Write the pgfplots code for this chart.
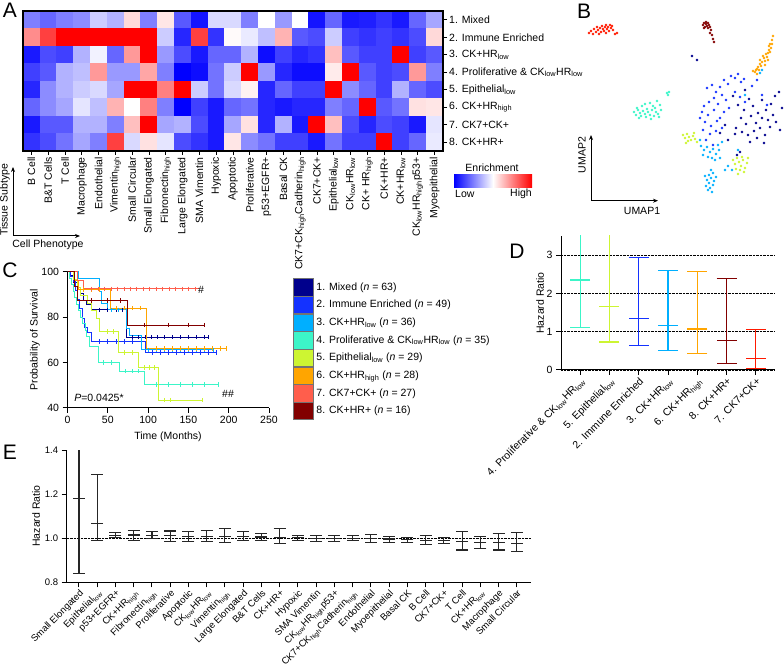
\documentclass[border=0pt]{standalone}
\usepackage{pgfplots}
\pgfplotsset{compat=1.18}
\usepackage{fontspec}
\setmainfont{Liberation Sans}
\usetikzlibrary{arrows.meta}
\newcommand\fs{\fontsize{10.5pt}{12pt}\selectfont}
\newcommand\fss{\fontsize{9.5pt}{11pt}\selectfont}
\newcommand\fl{\fontsize{21pt}{24pt}\selectfont}
\newcommand\sub[1]{\textsubscript{#1}}
\definecolor{c1}{RGB}{0,0,140}
\definecolor{c2}{RGB}{20,50,255}
\definecolor{c3}{RGB}{0,175,255}
\definecolor{c4}{RGB}{60,245,200}
\definecolor{c5}{RGB}{205,245,50}
\definecolor{c6}{RGB}{255,165,0}
\definecolor{c7}{RGB}{255,25,0}
\definecolor{c8}{RGB}{130,0,0}
\pgfplotsset{
  gp/.style={scale only axis, anchor=south west, axis x line*=bottom, axis y line*=left,
    tick align=outside, major tick length=5pt, axis line style={line width=1pt},
    every tick/.style={black, line width=1pt}, /pgf/number format/assume math mode=true},
  cens/.style={only marks, mark=|, mark size=2.2pt, line width=0.7pt, forget plot},
}
\begin{document}
\begin{tikzpicture}
\path[use as bounding box] (0pt,0pt) rectangle (784pt,671pt);

% ---------- B: UMAP scatter (pixel coordinates) ----------
\begin{axis}[at={(0pt,0pt)}, anchor=south west, scale only axis, width=784pt, height=671pt,
  xmin=0, xmax=784, ymin=0, ymax=671, y dir=reverse, hide axis, clip=false]
\pgfplotsset{every axis plot/.append style={only marks, mark=*, mark size=1.1pt, mark options={draw=none}}}
\addplot[c7] coordinates {(589,33)(591,31)(593,34)(594,29)(596,32)(597,27)(598,30)(600,28)(601,32)(602,26)(603,29)(604,31)(605,27)(606,25)(607,29)(608,27)(609,31)(610,25)(611,28)(612,26)(613,30)(615,34)(617,33)(599,34)(606,33)};
\addplot[c8] coordinates {(703,25)(704,23)(705,27)(706,24)(707,26)(708,23)(708,28)(709,25)(710,27)(711,30)(710,33)(712,35)(713,39)(714,42)(706,22)(704,28)};
\addplot[c6] coordinates {(773,36)(772,40)(770,44)(771,48)(769,50)(768,53)(766,54)(767,57)(764,58)(765,61)(762,62)(760,64)(761,66)(758,67)(757,69)(756,70)(755,72)(753,71)(759,70)(765,65)(763,56)(769,46)(772,44)(768,60)(760,60)(757,74)(770,52)};
\addplot[c2] coordinates {(707,88)(712,85)(716,92)(720,87)(724,80)(728,84)(731,76)(735,78)(738,74)(741,82)(744,79)(722,95)(714,98)(709,102)(704,106)(718,104)(726,100)(702,112)(708,115)(714,110)(720,118)(705,122)(711,126)(717,121)(724,112)(729,108)(703,130)(710,134)(716,131)(722,128)(706,140)(713,145)(735,92)(740,97)(745,102)(752,86)(757,80)(762,95)(767,105)(700,118)};
\addplot[c1] coordinates {(692,56)(697,60)(733,96)(738,105)(744,110)(749,99)(753,106)(758,113)(762,100)(766,110)(771,104)(775,96)(779,92)(773,115)(768,120)(762,118)(756,123)(751,116)(746,124)(741,118)(736,128)(742,132)(748,135)(754,131)(760,128)(765,135)(770,127)(776,122)(780,130)(757,138)(735,134)(745,90)(782,108)(737,155)(740,152)(728,140)(750,142)(764,143)(720,133)(725,125)};
\addplot[c3] coordinates {(701,146)(704,150)(707,147)(710,152)(713,149)(716,154)(719,150)(703,155)(708,157)(712,158)(718,145)(722,142)(725,170)(728,166)(705,176)(707,180)(709,183)(711,178)(713,185)(710,188)(708,190)(712,192)(714,181)(716,177)(706,186)(709,175)(732,170)(700,140)(715,160)(720,158)(711,170)(713,173)(762,70)(760,73)(745,95)(738,150)};
\addplot[c4] coordinates {(634,112)(636,115)(638,110)(640,113)(641,116)(643,111)(645,114)(647,109)(648,112)(650,115)(652,110)(653,106)(655,108)(656,112)(658,114)(659,117)(661,110)(645,104)(650,103)(657,101)(637,108)(642,106)(654,116)(660,105)(667,93)(668,95)(669,92)(646,117)(639,118)(651,119)};
\addplot[c5] coordinates {(683,135)(685,138)(687,134)(689,137)(691,140)(693,136)(695,139)(697,142)(688,141)(694,133)(686,143)(733,160)(735,164)(737,158)(739,162)(741,166)(743,160)(745,168)(747,163)(740,170)(736,169)(744,172)(738,174)(748,158)(742,157)};
\end{axis}
\draw[line width=1pt, {Stealth[length=5pt,width=4pt]}-{Stealth[length=5pt,width=4pt]}] (591pt,536pt) -- (591pt,470.3pt) -- (658pt,470.3pt);
\node[rotate=90, font=\fs] at (582pt,516pt) {UMAP2};
\node[font=\fs] at (642pt,460pt) {UMAP1};

% ---------- A: heatmap ----------
\begin{axis}[at={(23pt,520pt)}, anchor=south west, scale only axis, width=420pt, height=140pt,
  xmin=-0.5, xmax=24.5, ymin=0.5, ymax=8.5, y dir=reverse, enlargelimits=false, axis on top,
  colormap={bwr}{rgb255=(0,0,255) rgb255=(255,255,255) rgb255=(255,0,0)},
  point meta min=-1, point meta max=1,
  xtick={0,...,24}, ytick={1,...,8}, xtick pos=left, ytick pos=right, yticklabel pos=right,
  tick align=outside, major tick length=4pt, every tick/.style={black, line width=0.8pt},
  axis line style={line width=1.2pt},
  xticklabels={B Cell, B\&T Cells, T Cell, Macrophage, Endothelial, Vimentin\sub{high}, Small Circular, Small Elongated, Fibronectin\sub{high}, Large Elongated, SMA Vimentin, Hypoxic, Apoptotic, Proliferative, p53+EGFR+, Basal CK, CK7+CK\sub{high}Cadherin\sub{high}, CK7+CK+, Epithelial\sub{low}, CK\sub{low}HR\sub{low}, CK+ HR\sub{high}, CK+HR+, CK+HR\sub{low}, CK\sub{low}HR\sub{high}p53+, Myoepithelial},
  yticklabels={1. Mixed, 2. Immune Enriched, 3. CK+HR\sub{low}, 4. Proliferative \& CK\sub{low}HR\sub{low}, 5. Epithelial\sub{low}, 6. CK+HR\sub{high}, 7. CK7+CK+, 8. CK+HR+},
  xticklabel style={rotate=90, anchor=east, font=\fs, inner sep=2pt},
  yticklabel style={font=\fs, anchor=west, inner sep=2pt}]
\addplot[matrix plot*, mesh/cols=25, point meta=explicit] coordinates {
(0,1)[-0.5] (1,1)[-0.6] (2,1)[-0.5] (3,1)[-0.45] (4,1)[-0.2] (5,1)[-0.3] (6,1)[0.15] (7,1)[-0.5] (8,1)[0.1] (9,1)[-0.65] (10,1)[-0.92] (11,1)[-0.15] (12,1)[-0.15] (13,1)[-0.5] (14,1)[0] (15,1)[-0.4] (16,1)[0] (17,1)[-0.92] (18,1)[-0.6] (19,1)[-0.9] (20,1)[-0.88] (21,1)[-0.8] (22,1)[-0.9] (23,1)[-0.6] (24,1)[-0.35]
(0,2)[0.45] (1,2)[0.75] (2,2)[1] (3,2)[1] (4,2)[1] (5,2)[1] (6,2)[1] (7,2)[1] (8,2)[-0.2] (9,2)[-0.85] (10,2)[0.75] (11,2)[-0.8] (12,2)[0.02] (13,2)[-0.08] (14,2)[-0.25] (15,2)[0.3] (16,2)[-0.65] (17,2)[-0.7] (18,2)[-0.2] (19,2)[-0.75] (20,2)[-0.8] (21,2)[-0.75] (22,2)[-0.8] (23,2)[-0.7] (24,2)[0.15]
(0,3)[-0.9] (1,3)[-0.7] (2,3)[-0.75] (3,3)[-0.3] (4,3)[-0.05] (5,3)[-0.6] (6,3)[0.4] (7,3)[1] (8,3)[-0.4] (9,3)[-0.7] (10,3)[-0.9] (11,3)[-0.6] (12,3)[-0.6] (13,3)[-0.3] (14,3)[-0.95] (15,3)[-0.75] (16,3)[-0.85] (17,3)[-0.8] (18,3)[0.25] (19,3)[-0.65] (20,3)[-0.75] (21,3)[-0.75] (22,3)[1] (23,3)[-0.75] (24,3)[-0.65]
(0,4)[-0.75] (1,4)[-0.65] (2,4)[-0.3] (3,4)[-0.25] (4,4)[0.4] (5,4)[-0.4] (6,4)[-0.4] (7,4)[0.35] (8,4)[-0.5] (9,4)[-1] (10,4)[-0.95] (11,4)[-0.55] (12,4)[-0.2] (13,4)[1] (14,4)[-0.4] (15,4)[-0.85] (16,4)[-0.95] (17,4)[-0.95] (18,4)[0.08] (19,4)[1] (20,4)[-0.65] (21,4)[-0.75] (22,4)[-0.7] (23,4)[0.4] (24,4)[-0.5]
(0,5)[-0.85] (1,5)[-0.45] (2,5)[-0.3] (3,5)[-0.2] (4,5)[-0.15] (5,5)[-0.35] (6,5)[1] (7,5)[1] (8,5)[0.5] (9,5)[1] (10,5)[-0.2] (11,5)[-0.55] (12,5)[-0.15] (13,5)[0.05] (14,5)[-0.85] (15,5)[-0.6] (16,5)[-0.75] (17,5)[-0.75] (18,5)[1] (19,5)[-0.45] (20,5)[-0.6] (21,5)[-0.75] (22,5)[-0.3] (23,5)[-0.6] (24,5)[-0.7]
(0,6)[-0.6] (1,6)[-0.45] (2,6)[-0.35] (3,6)[-0.1] (4,6)[-0.25] (5,6)[0.3] (6,6)[0] (7,6)[0.5] (8,6)[-0.5] (9,6)[-1] (10,6)[-0.75] (11,6)[-0.9] (12,6)[-0.6] (13,6)[-0.55] (14,6)[-0.85] (15,6)[-0.9] (16,6)[-0.85] (17,6)[-0.85] (18,6)[-0.5] (19,6)[-0.6] (20,6)[1] (21,6)[-0.65] (22,6)[-0.55] (23,6)[0.12] (24,6)[0.1]
(0,7)[-0.9] (1,7)[-0.65] (2,7)[-0.65] (3,7)[-0.3] (4,7)[-0.3] (5,7)[-0.5] (6,7)[0.25] (7,7)[1] (8,7)[-0.35] (9,7)[-0.3] (10,7)[-0.7] (11,7)[-0.9] (12,7)[-0.35] (13,7)[0.12] (14,7)[-0.85] (15,7)[-0.3] (16,7)[-0.9] (17,7)[1] (18,7)[0.25] (19,7)[-0.7] (20,7)[-0.85] (21,7)[-0.7] (22,7)[-0.75] (23,7)[-0.9] (24,7)[-0.1]
(0,8)[-0.8] (1,8)[-0.7] (2,8)[-0.55] (3,8)[-0.35] (4,8)[-0.5] (5,8)[0.75] (6,8)[-0.15] (7,8)[0.12] (8,8)[-0.1] (9,8)[-0.7] (10,8)[-0.8] (11,8)[-0.9] (12,8)[0.1] (13,8)[-0.45] (14,8)[-0.55] (15,8)[-0.75] (16,8)[-0.75] (17,8)[-0.9] (18,8)[-0.55] (19,8)[-0.75] (20,8)[-0.75] (21,8)[1] (22,8)[-0.75] (23,8)[-0.6] (24,8)[-0.08]
};
\end{axis}
\shade[left color=blue, right color=red, middle color=white] (454pt,483pt) rectangle (532pt,496pt);
\node[font=\fs] at (492pt,503pt) {Enrichment};
\node[font=\fs, anchor=west, inner sep=0pt] at (455pt,477pt) {Low};
\node[font=\fs, anchor=east, inner sep=0pt] at (532pt,477pt) {High};
\draw[line width=1pt, -{Stealth[length=5pt,width=4pt]}] (13pt,435pt) -- (13pt,504pt);
\draw[line width=1pt, -{Stealth[length=5pt,width=4pt]}] (13pt,435pt) -- (80pt,435pt);
\node[rotate=90, font=\fs] at (5pt,471pt) {Tissue Subtype};
\node[font=\fs] at (48pt,426pt) {Cell Phenotype};

% ---------- C: Kaplan-Meier ----------
\begin{axis}[gp, at={(67.5pt,263pt)}, width=201.5pt, height=136pt,
  xmin=0, xmax=250, ymin=40, ymax=100, xtick={0,50,...,250}, ytick={40,60,80,100},
  ticklabel style={font=\fs}, clip=false,
  legend style={at={(axis description cs:1.119,0.956)}, anchor=north west, draw=none, fill=none,
    inner sep=0pt, row sep=0pt, nodes={inner sep=0pt, font=\fs}, /tikz/every odd column/.append style={column sep=3pt}},
  legend cell align=left,
  legend image code/.code={\filldraw[#1, draw=black!55, line width=0.3pt] (0pt,-8.7pt) rectangle (20pt,8.7pt);}]
\addplot[const plot, c1, line width=1pt] coordinates {(0,100)(4,98.4)(8,95.2)(12,92.1)(16,90.5)(20,87.3)(24,85.7)(30,83.3)(73,71.2)(175,71.2)};
\addlegendentry{1. Mixed (\textit{n} = 63)}
\addplot[const plot, c2, line width=1pt] coordinates {(0,100)(4,98)(7,95.9)(10,91.8)(13,87.8)(15,83.7)(18,79.6)(21,75.5)(25,73.4)(30,69.3)(97,64.4)(185,64.4)};
\addlegendentry{2. Immune Enriched (\textit{n} = 49)}
\addplot[const plot, c3, line width=1pt] coordinates {(0,100)(14,97.2)(40,91.6)(42,86.1)(50,83.3)(73,75)(77,72.2)(92,65.6)(181,65.6)};
\addlegendentry{3. CK+HR\sub{low} (\textit{n} = 36)}
\addplot[const plot, c4, line width=1pt] coordinates {(0,100)(3,97.1)(5,94.3)(7,91.4)(9,88.6)(11,85.7)(14,82.9)(16,80)(19,77.1)(22,74.3)(24,71.4)(27,67.1)(38,60)(65,56.3)(95,50.4)(187,50.4)};
\addlegendentry{4. Proliferative \& CK\sub{low}HR\sub{low} (\textit{n} = 35)}
\addplot[const plot, c5, line width=1pt] coordinates {(0,100)(8,96.6)(12,93.1)(16,89.7)(25,86.2)(30,82.8)(36,79.3)(40,73.7)(63,64.4)(88,57.8)(113,43.5)(167,43.5)};
\addlegendentry{5. Epithelial\sub{low} (\textit{n} = 29)}
\addplot[const plot, c6, line width=1pt] coordinates {(0,100)(9,96.4)(14,92.3)(53,84)(98,66.3)(197,66.3)};
\addlegendentry{6. CK+HR\sub{high} (\textit{n} = 28)}
\addplot[const plot, c7!70, line width=1pt] coordinates {(0,100)(12,96.3)(20,92.6)(163,92.6)};
\addlegendentry{7. CK7+CK+ (\textit{n} = 27)}
\addplot[const plot, c8, line width=1pt] coordinates {(0,100)(9,93.75)(12,87.5)(74,76.6)(170,76.6)};
\addlegendentry{8. CK+HR+ (\textit{n} = 16)}
\addplot[cens, c1] coordinates {(40,83.3)(50,83.3)(60,83.3)(68,83.3)(80,71.2)(88,71.2)(96,71.2)(104,71.2)(112,71.2)(120,71.2)(130,71.2)(140,71.2)(150,71.2)(160,71.2)(170,71.2)(175,71.2)};
\addplot[cens, c2] coordinates {(40,69.3)(50,69.3)(60,69.3)(70,69.3)(80,69.3)(105,64.4)(115,64.4)(125,64.4)(135,64.4)(145,64.4)(155,64.4)(165,64.4)(175,64.4)(185,64.4)};
\addplot[cens, c3] coordinates {(55,83.3)(63,83.3)(100,65.6)(110,65.6)(120,65.6)(130,65.6)(140,65.6)(150,65.6)(160,65.6)(170,65.6)(181,65.6)};
\addplot[cens, c4] coordinates {(45,60)(55,60)(72,56.3)(80,56.3)(88,56.3)(110,50.4)(125,50.4)(140,50.4)(155,50.4)(170,50.4)(187,50.4)};
\addplot[cens, c5] coordinates {(50,73.7)(57,73.7)(70,64.4)(80,64.4)(95,57.8)(102,57.8)(108,57.8)(120,43.5)(128,43.5)(167,43.5)};
\addplot[cens, c6] coordinates {(20,92.3)(30,92.3)(40,92.3)(60,84)(70,84)(80,84)(90,84)(110,66.3)(120,66.3)(130,66.3)(140,66.3)(150,66.3)(160,66.3)(170,66.3)(180,66.3)(190,66.3)(197,66.3)};
\addplot[cens, c7!70] coordinates {(30,92.6)(38,92.6)(46,92.6)(54,92.6)(62,92.6)(70,92.6)(78,92.6)(86,92.6)(94,92.6)(102,92.6)(110,92.6)(118,92.6)(126,92.6)(134,92.6)(142,92.6)(150,92.6)(158,92.6)};
\addplot[cens, c8] coordinates {(30,87.5)(50,87.5)(65,87.5)(95,76.6)(125,76.6)(150,76.6)(170,76.6)};
\end{axis}
\node[rotate=90, font=\fs] at (35pt,331pt) {Probability of Survival};
\node[font=\fs] at (168pt,234pt) {Time (Months)};
\node[font=\fs] at (201pt,381pt) {\#};
\node[font=\fs] at (228pt,277pt) {\#\#};
\node[font=\fs] at (99pt,273pt) {\textit{P}=0.0425*};

% ---------- D: hazard ratios ----------
\begin{axis}[gp, at={(561pt,301pt)}, width=214pt, height=134pt,
  xmin=-0.65, xmax=6.65, ymin=0, ymax=3.5, ytick={0,1,2,3}, xtick={0,...,6},
  ymajorgrids, major grid style={densely dotted, black, line width=0.9pt},
  clip mode=individual,
  xticklabels={4. Proliferative \& CK\sub{low}HR\sub{low}, 5. Epithelial\sub{low}, 2. Immune Enriched, 3. CK+HR\sub{low}, 6. CK+HR\sub{high}, 8. CK+HR+, 7. CK7+CK+},
  xticklabel style={rotate=45, anchor=north east, font=\fs, inner sep=1pt},
  yticklabel style={font=\fs},
  every axis plot/.append style={only marks, mark=-, mark size=10pt, line width=1.1pt,
    error bars/y dir=both, error bars/y explicit, error bars/error mark=|,
    error bars/error bar style={line width=1.1pt}}]
\addplot[c4, error bars/error mark options={c4, mark size=10pt, line width=1.1pt}] coordinates {(0,2.35) += (0,2.15) -= (0,1.23)};
\addplot[c5, error bars/error mark options={c5, mark size=10pt, line width=1.1pt}] coordinates {(1,1.67) += (0,2.83) -= (0,0.94)};
\addplot[c2, error bars/error mark options={c2, mark size=10pt, line width=1.1pt}] coordinates {(2,1.35) += (0,1.58) -= (0,0.72)};
\addplot[c3, error bars/error mark options={c3, mark size=10pt, line width=1.1pt}] coordinates {(3,1.16) += (0,1.45) -= (0,0.66)};
\addplot[c6, error bars/error mark options={c6, mark size=10pt, line width=1.1pt}] coordinates {(4,1.07) += (0,1.50) -= (0,0.64)};
\addplot[c8, error bars/error mark options={c8, mark size=10pt, line width=1.1pt}] coordinates {(5,0.77) += (0,1.62) -= (0,0.60)};
\addplot[c7, error bars/error mark options={c7, mark size=10pt, line width=1.1pt}] coordinates {(6,0.29) += (0,0.77) -= (0,0.25)};
\end{axis}
\node[rotate=90, font=\fs] at (540pt,368pt) {Hazard Ratio};

% ---------- E: hazard ratios per phenotype ----------
\begin{axis}[gp, at={(66.7pt,88.7pt)}, width=464.3pt, height=132pt,
  xmin=-0.674, xmax=24.78, ymin=0.8, ymax=1.4, ytick={0.8,1.0,1.2,1.4}, xtick={0,...,24},
  yticklabel style={font=\fss, /pgf/number format/.cd, fixed, fixed zerofill, precision=1},
  extra y ticks={1}, extra y tick labels={}, extra y tick style={grid=major, major grid style={densely dotted, black, line width=0.9pt}},
  clip mode=individual,
  xticklabels={Small Elongated, Epithelial\sub{low}, p53+EGFR+, CK+HR\sub{high}, Fibronectin\sub{high}, Proliferative, Apoptotic, CK\sub{low}HR\sub{low}, Vimentin\sub{high}, Large Elongated, B\&T Cells, CK+HR+, Hypoxic, SMA Vimentin, CK\sub{low}HR\sub{high}p53+, CK7+CK\sub{high}Cadherin\sub{high}, Endothelial, Myoepithelial, Basal CK, B Cell, CK7+CK+, T Cell, CK+HR\sub{low}, Macrophage, Small Circular},
  xticklabel style={rotate=45, anchor=north east, font=\fss, inner sep=1pt}]
\addplot[black!85, only marks, mark=-, mark size=6pt, line width=1.1pt,
  error bars/.cd, y dir=both, y explicit, error mark=|, error mark options={black!85, mark size=6pt, line width=1.1pt},
  error bar style={line width=1.1pt}] coordinates {
(0,1.180) += (0,0.320) -= (0,0.342)
(1,1.067) += (0,0.223) -= (0,0.076)
(2,1.013) += (0,0.014) -= (0,0.010)
(3,1.015) += (0,0.020) -= (0,0.023)
(4,1.013) += (0,0.017) -= (0,0.015)
(5,1.012) += (0,0.021) -= (0,0.026)
(6,1.010) += (0,0.021) -= (0,0.024)
(7,1.010) += (0,0.025) -= (0,0.024)
(8,1.009) += (0,0.035) -= (0,0.029)
(9,1.008) += (0,0.022) -= (0,0.020)
(10,1.006) += (0,0.014) -= (0,0.014)
(11,1.005) += (0,0.040) -= (0,0.029)
(12,1.002) += (0,0.012) -= (0,0.012)
(13,0.999) += (0,0.015) -= (0,0.014)
(14,0.999) += (0,0.013) -= (0,0.013)
(15,0.999) += (0,0.012) -= (0,0.009)
(16,0.998) += (0,0.020) -= (0,0.019)
(17,0.997) += (0,0.013) -= (0,0.015)
(18,0.993) += (0,0.012) -= (0,0.013)
(19,0.991) += (0,0.020) -= (0,0.018)
(20,0.988) += (0,0.014) -= (0,0.013)
(21,0.985) += (0,0.045) -= (0,0.038)
(22,0.982) += (0,0.026) -= (0,0.027)
(23,0.980) += (0,0.043) -= (0,0.033)
(24,0.977) += (0,0.049) -= (0,0.037)
};
\end{axis}
\node[rotate=90, font=\fs] at (36pt,155pt) {Hazard Ratio};

% ---------- panel letters ----------
\node[font=\fl] at (10pt,661pt) {A};
\node[font=\fl] at (584pt,660pt) {B};
\node[font=\fl] at (10pt,401pt) {C};
\node[font=\fl] at (517pt,420pt) {D};
\node[font=\fl] at (10pt,219pt) {E};
\end{tikzpicture}
\end{document}
